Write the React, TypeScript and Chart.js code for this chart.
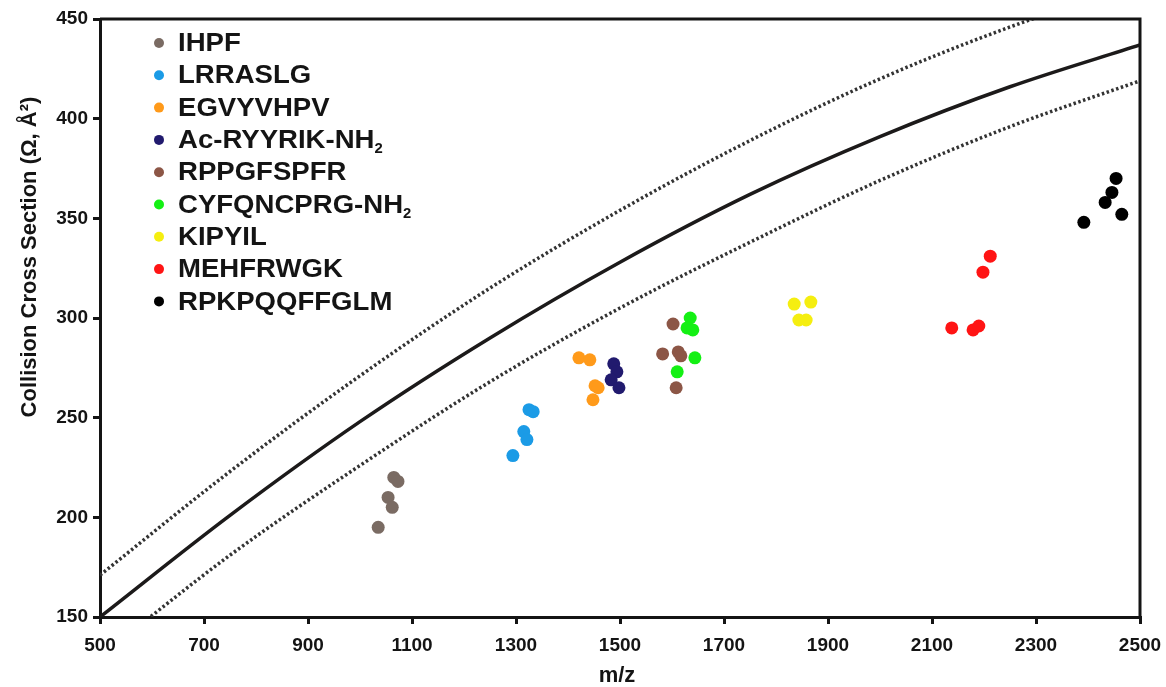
import React, { useEffect, useRef } from "react";
import { Chart, registerables } from "chart.js";

Chart.register(...registerables);

// ---- Data ----
const peptideNames = [
  "IHPF",
  "LRRASLG",
  "EGVYVHPV",
  "Ac-RYYRIK-NH₂",
  "RPPGFSPFR",
  "CYFQNCPRG-NH₂",
  "KIPYIL",
  "MEHFRWGK",
  "RPKPQQFFGLM",
];
const peptideColors = [
  "#7a6b63",
  "#1b9be6",
  "#ff9a1a",
  "#211a6e",
  "#8c5646",
  "#14f014",
  "#f5ee10",
  "#ff1414",
  "#000000",
];

const ihpfMz = [1035, 1054, 1062, 1065, 1073];
const ihpfCcs = [195, 210, 205, 220, 218];
const lrraslgMz = [1325, 1333, 1315, 1321, 1294];
const lrraslgCcs = [254, 253, 243, 239, 231];
const egvyvhpvMz = [1421, 1442, 1452, 1458, 1448];
const egvyvhpvCcs = [280, 279, 266, 265, 259];
const ryyrikMz = [1488, 1494, 1483, 1498];
const ryyrikCcs = [277, 273, 269, 265];
const rppgfspfrMz = [1602, 1582, 1612, 1617, 1608];
const rppgfspfrCcs = [297, 282, 283, 281, 265];
const cyfqMz = [1635, 1629, 1640, 1644, 1610];
const cyfqCcs = [300, 295, 294, 280, 273];
const kipyilMz = [1835, 1867, 1844, 1858];
const kipyilCcs = [307, 308, 299, 299];
const mehfrwgkMz = [2212, 2198, 2138, 2179, 2190];
const mehfrwgkCcs = [331, 323, 295, 294, 296];
const rpkpMz = [2454, 2446, 2433, 2465, 2392];
const rpkpCcs = [370, 363, 358, 352, 348];

const peptideMz = [ihpfMz, lrraslgMz, egvyvhpvMz, ryyrikMz, rppgfspfrMz, cyfqMz, kipyilMz, mehfrwgkMz, rpkpMz];
const peptideCcs = [ihpfCcs, lrraslgCcs, egvyvhpvCcs, ryyrikCcs, rppgfspfrCcs, cyfqCcs, kipyilCcs, mehfrwgkCcs, rpkpCcs];

const curveMz = [500, 750, 1000, 1250, 1500, 1750, 2000, 2250, 2500];
const fitCcs = [150, 201, 248, 290, 328, 362, 391, 416, 437];
const upperCcs = [171, 223, 271, 315, 354, 389, 420, 446, 468];
const lowerCcs = [130, 181, 226, 268, 305, 338, 369, 396, 419];

const xTicks = [500, 700, 900, 1100, 1300, 1500, 1700, 1900, 2100, 2300, 2500];
const yTicks = [150, 200, 250, 300, 350, 400, 450];

const xTitle = "m/z";
const yTitle = "Collision Cross Section (Ω, Å²)";

const FONT = '"Liberation Sans", Arial, sans-serif';
const INK = "#141414";

function drawRichText(ctx: CanvasRenderingContext2D, text: string, x: number, y: number, size: number, stretch: number) {
  ctx.save();
  ctx.translate(x, y);
  ctx.scale(stretch, 1);
  ctx.textBaseline = "middle";
  ctx.textAlign = "left";
  let cx = 0;
  const parts = text.split("₂");
  parts.forEach((part, i) => {
    ctx.font = `bold ${size}px ${FONT}`;
    ctx.fillText(part, cx, 0);
    cx += ctx.measureText(part).width;
    if (i < parts.length - 1) {
      ctx.font = `bold ${Math.round(size * 0.55)}px ${FONT}`;
      ctx.fillText("2", cx, size * 0.32);
      cx += ctx.measureText("2").width;
    }
  });
  ctx.restore();
}

const legendPlugin = {
  id: "peptideLegend",
  afterDatasetsDraw(chart: any) {
    const ctx: CanvasRenderingContext2D = chart.ctx;
    ctx.save();
    for (let i = 0; i < peptideNames.length; i++) {
      const ds = chart.data.datasets[i];
      const y = 43 + i * 32.3;
      ctx.fillStyle = ds.backgroundColor;
      ctx.beginPath();
      ctx.arc(159, y, 5, 0, Math.PI * 2);
      ctx.fill();
      ctx.fillStyle = INK;
      drawRichText(ctx, ds.label, 178, y + 1, 26, 1.06);
    }
    ctx.restore();
  },
};

const framePlugin = {
  id: "frameAndTitles",
  afterDraw(chart: any) {
    const ctx: CanvasRenderingContext2D = chart.ctx;
    const a = chart.chartArea;
    ctx.save();
    ctx.strokeStyle = INK;
    ctx.lineWidth = 3;
    ctx.beginPath();
    ctx.moveTo(a.left, a.top);
    ctx.lineTo(a.right, a.top);
    ctx.lineTo(a.right, a.bottom);
    ctx.stroke();

    ctx.fillStyle = INK;
    ctx.textAlign = "center";
    ctx.textBaseline = "middle";
    ctx.font = `bold 22px ${FONT}`;
    ctx.fillText(xTitle, 617, 676);

    ctx.translate(30, 257);
    ctx.rotate(-Math.PI / 2);
    ctx.fillText(yTitle, 0, 0);
    ctx.restore();
  },
};

export default function App() {
  const canvasRef = useRef<HTMLCanvasElement | null>(null);

  useEffect(() => {
    document.body.style.margin = "0";
    const canvas = canvasRef.current;
    if (!canvas) return;

    const pointSets = peptideNames.map((name, i) => ({
      label: name,
      data: peptideMz[i].map((mz, j) => ({ x: mz, y: peptideCcs[i][j] })),
      backgroundColor: peptideColors[i],
      borderColor: peptideColors[i],
      pointRadius: 6.5,
      pointBorderWidth: 0,
      showLine: false,
    }));

    const curve = (ys: number[], dashed: boolean, label: string) => ({
      label,
      data: curveMz.map((mz, j) => ({ x: mz, y: ys[j] })),
      showLine: true,
      borderColor: dashed ? "#333333" : "#1c1a1a",
      backgroundColor: "transparent",
      borderWidth: 3.5,
      borderDash: dashed ? [2.5, 2.5] : [],
      pointRadius: 0,
      cubicInterpolationMode: "monotone",
      clip: 0,
    });

    const tickFont = { family: FONT, size: 19, weight: "bold" as const };
    const plain = (v: any) => String(v);

    const chart = new Chart(canvas, {
      type: "scatter",
      data: {
        datasets: [
          ...pointSets,
          curve(fitCcs, false, "fit"),
          curve(upperCcs, true, "upper"),
          curve(lowerCcs, true, "lower"),
        ] as any,
      },
      options: {
        responsive: false,
        animation: false,
        layout: { padding: { top: 19, right: 26, left: 0, bottom: 0 } },
        plugins: {
          legend: { display: false },
          tooltip: { enabled: false },
          title: { display: false },
        },
        scales: {
          x: {
            type: "linear",
            min: 500,
            max: 2500,
            afterBuildTicks: (s: any) => {
              s.ticks = xTicks.map((v) => ({ value: v }));
            },
            afterFit: (s: any) => {
              s.height = 70;
              s.paddingLeft = 0;
              s.paddingRight = 0;
            },
            ticks: { font: tickFont, color: INK, padding: 10, maxRotation: 0, autoSkip: false, callback: plain },
            grid: { drawOnChartArea: false, drawTicks: true, tickLength: 7, lineWidth: 3, color: INK },
            border: { display: true, width: 3, color: INK },
          },
          y: {
            type: "linear",
            min: 150,
            max: 450,
            afterBuildTicks: (s: any) => {
              s.ticks = yTicks.map((v) => ({ value: v }));
            },
            afterFit: (s: any) => {
              s.width = 100;
              s.paddingTop = 0;
              s.paddingBottom = 0;
            },
            ticks: { font: tickFont, color: INK, padding: 5, autoSkip: false, callback: plain },
            grid: { drawOnChartArea: false, drawTicks: true, tickLength: 7, lineWidth: 3, color: INK },
            border: { display: true, width: 3, color: INK },
          },
        },
      } as any,
      plugins: [legendPlugin, framePlugin],
    });

    return () => chart.destroy();
  }, []);

  return (
    <div style={{ width: 1166, height: 687, position: "relative", background: "#fff" }}>
      <canvas ref={canvasRef} width={1166} height={687} />
    </div>
  );
}
